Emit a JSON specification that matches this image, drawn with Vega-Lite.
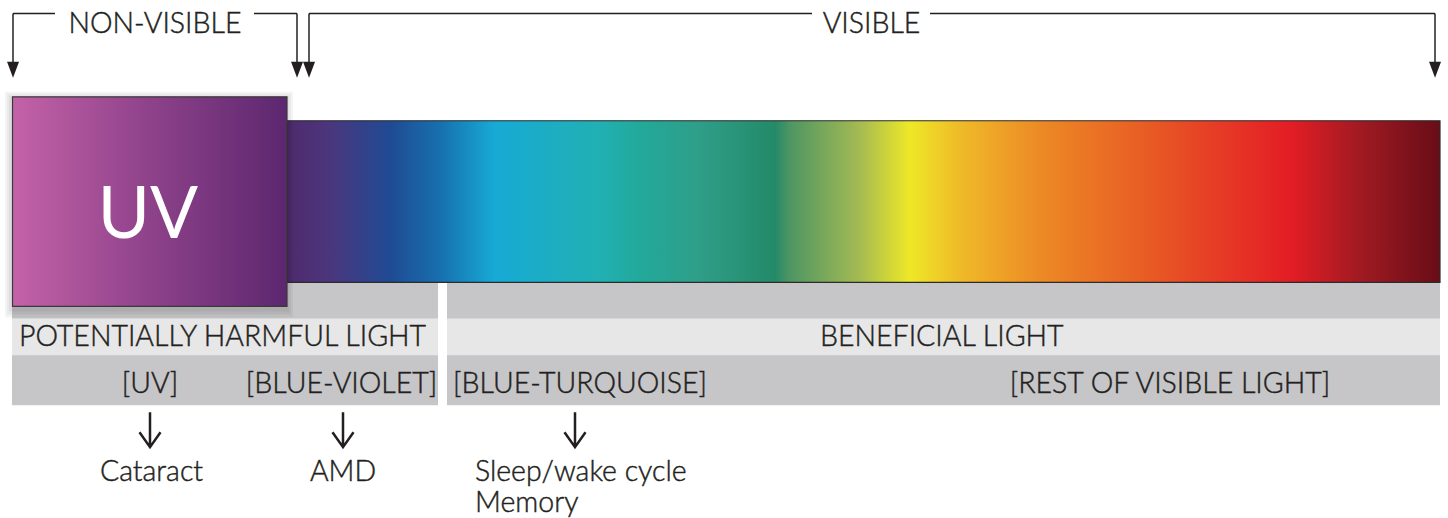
{
  "$schema": "https://vega.github.io/schema/vega-lite/v6.json",
  "width": 1448,
  "height": 518,
  "padding": 0,
  "autosize": {"type": "fit", "contains": "padding"},
  "config": {"view": {"stroke": null}, "text": {"font": "Lato", "fontWeight": 300, "color": "#231f20"}},
  "datasets": {
    "panels": [{"x": 12, "x2": 438, "y": 283, "y2": 406}, {"x": 447, "x2": 1440, "y": 283, "y2": 406}],
    "bands": [{"x": 12, "x2": 438, "y": 319, "y2": 356}, {"x": 447, "x2": 1440, "y": 319, "y2": 356}],
    "shadow": [{"x": 5, "x2": 293, "y": 92, "y2": 318}, {"x": 7, "x2": 291, "y": 94, "y2": 315}, {"x": 9, "x2": 289, "y": 96, "y2": 312}],
    "spectrum": [{"x": 287, "x2": 1440, "y": 121, "y2": 283}],
    "uvbox": [{"x": 12.5, "x2": 287, "y": 97, "y2": 307}],
    "uvtext": [{"x": 148, "y": 238, "t": "UV"}],
    "segments": [
      {"x": 13, "x2": 55, "y": 13.5, "y2": 13.5},
      {"x": 254, "x2": 297, "y": 13.5, "y2": 13.5},
      {"x": 13, "x2": 13, "y": 13.5, "y2": 63},
      {"x": 297, "x2": 297, "y": 13.5, "y2": 63},
      {"x": 309, "x2": 812, "y": 13.5, "y2": 13.5},
      {"x": 930, "x2": 1435, "y": 13.5, "y2": 13.5},
      {"x": 309, "x2": 309, "y": 13.5, "y2": 63},
      {"x": 1435, "x2": 1435, "y": 13.5, "y2": 63}
    ],
    "heads": [{"x": 13, "y": 70}, {"x": 297, "y": 70}, {"x": 309, "y": 70}, {"x": 1435, "y": 70}],
    "arrows": [{"x": 150, "y": 430.5}, {"x": 343, "y": 430.5}, {"x": 575, "y": 430.5}],
    "centerText": [
      {"x": 155, "y": 33.5, "t": "NON-VISIBLE"},
      {"x": 871.5, "y": 33.5, "t": "VISIBLE"},
      {"x": 150, "y": 394, "t": "[UV]"},
      {"x": 341.5, "y": 394, "t": "[BLUE-VIOLET]"},
      {"x": 1170, "y": 394, "t": "[REST OF VISIBLE LIGHT]"},
      {"x": 151.5, "y": 482, "t": "Cataract"},
      {"x": 343, "y": 482, "t": "AMD"}
    ],
    "leftText": [
      {"x": 19, "y": 347, "t": "POTENTIALLY HARMFUL LIGHT"},
      {"x": 820, "y": 347, "t": "BENEFICIAL LIGHT"},
      {"x": 453, "y": 394, "t": "[BLUE-TURQUOISE]"},
      {"x": 475, "y": 482, "t": "Sleep/wake cycle"},
      {"x": 475, "y": 513, "t": "Memory"}
    ]
  },
  "encoding": {
    "x": {"field": "x", "type": "quantitative", "scale": {"domain": [0, 1448], "nice": false, "zero": false}, "axis": null},
    "y": {"field": "y", "type": "quantitative", "scale": {"domain": [0, 518], "nice": false, "zero": false, "reverse": true}, "axis": null}
  },
  "layer": [
    {"data": {"name": "panels"}, "mark": {"type": "rect", "color": "#c6c6c8"}, "encoding": {"x2": {"field": "x2"}, "y2": {"field": "y2"}}},
    {"data": {"name": "bands"}, "mark": {"type": "rect", "color": "#e7e7e8"}, "encoding": {"x2": {"field": "x2"}, "y2": {"field": "y2"}}},
    {"data": {"name": "spectrum"}, "mark": {"type": "rect", "stroke": "#2b2b2b", "strokeWidth": 1.2, "color": {"gradient": "linear", "x1": 0, "y1": 0, "x2": 1, "y2": 0, "stops": [
      {"offset": 0, "color": "#4f2a6c"},
      {"offset": 0.037, "color": "#4b367d"},
      {"offset": 0.089, "color": "#1f4a93"},
      {"offset": 0.133, "color": "#1770ae"},
      {"offset": 0.18, "color": "#17aad5"},
      {"offset": 0.271, "color": "#21b0b3"},
      {"offset": 0.306, "color": "#22a99b"},
      {"offset": 0.358, "color": "#2f9e88"},
      {"offset": 0.423, "color": "#238a69"},
      {"offset": 0.436, "color": "#4e9563"},
      {"offset": 0.497, "color": "#a5bb52"},
      {"offset": 0.54, "color": "#eee827"},
      {"offset": 0.584, "color": "#efba28"},
      {"offset": 0.653, "color": "#ec8a25"},
      {"offset": 0.749, "color": "#e85a24"},
      {"offset": 0.81, "color": "#e63a26"},
      {"offset": 0.871, "color": "#e31d25"},
      {"offset": 0.931, "color": "#a01a22"},
      {"offset": 1, "color": "#680d17"}
    ]}}, "encoding": {"x2": {"field": "x2"}, "y2": {"field": "y2"}}},
    {"data": {"name": "shadow"}, "mark": {"type": "rect", "color": "#000000", "opacity": 0.045}, "encoding": {"x2": {"field": "x2"}, "y2": {"field": "y2"}}},
    {"data": {"name": "uvbox"}, "mark": {"type": "rect", "stroke": "#3a3a3a", "strokeWidth": 1.2, "color": {"gradient": "linear", "x1": 0, "y1": 0, "x2": 1, "y2": 0, "stops": [
      {"offset": 0, "color": "#c462a8"},
      {"offset": 0.5, "color": "#8e428a"},
      {"offset": 1, "color": "#5c276f"}
    ]}}, "encoding": {"x2": {"field": "x2"}, "y2": {"field": "y2"}}},
    {"data": {"name": "uvtext"}, "mark": {"type": "text", "fontSize": 71, "fontWeight": 400, "color": "#ffffff", "align": "center", "baseline": "alphabetic"}, "encoding": {"text": {"field": "t"}}},
    {"data": {"name": "segments"}, "mark": {"type": "rule", "color": "#231f20", "strokeWidth": 1.5}, "encoding": {"x2": {"field": "x2"}, "y2": {"field": "y2"}}},
    {"data": {"name": "heads"}, "mark": {"type": "point", "shape": "M-0.75,-1L0.75,-1L0,1Z", "size": 256, "filled": true, "color": "#231f20", "opacity": 1}, "encoding": {}},
    {"data": {"name": "arrows"}, "mark": {"type": "point", "shape": "M0,-1L0,1M-0.6,0.15L0,1L0.6,0.15", "size": 1225, "filled": false, "color": "#231f20", "strokeWidth": 2.5, "opacity": 1}, "encoding": {}},
    {"data": {"name": "centerText"}, "mark": {"type": "text", "fontSize": 28.5, "align": "center", "baseline": "alphabetic", "stroke": "#231f20", "strokeWidth": 0.45}, "encoding": {"text": {"field": "t"}}},
    {"data": {"name": "leftText"}, "mark": {"type": "text", "fontSize": 28.5, "align": "left", "baseline": "alphabetic", "stroke": "#231f20", "strokeWidth": 0.45}, "encoding": {"text": {"field": "t"}}}
  ]
}
